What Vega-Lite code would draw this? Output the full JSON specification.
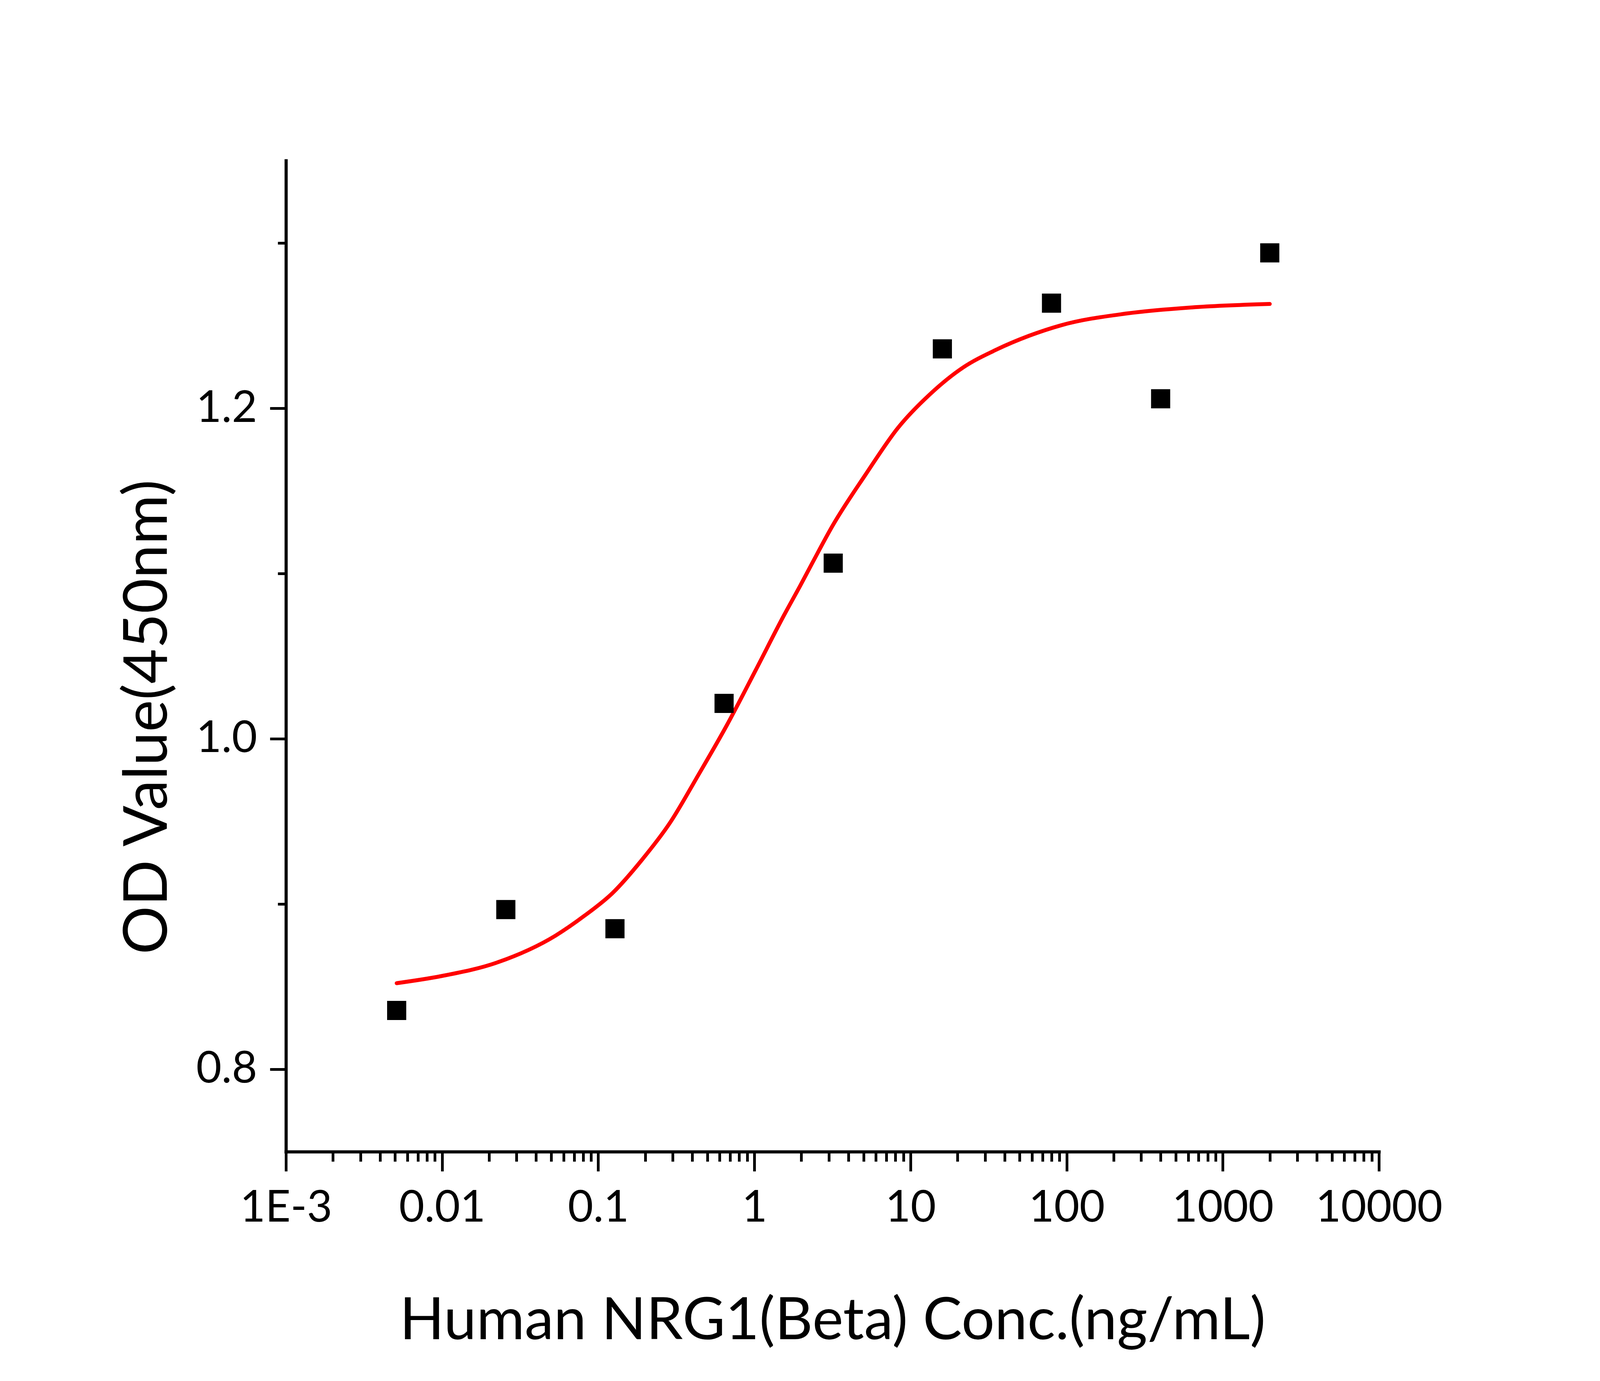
{
  "$schema": "https://vega.github.io/schema/vega-lite/v6.json",
  "autosize": "none",
  "padding": {"left": 732, "top": 411, "right": 570, "bottom": 587},
  "width": 2798,
  "height": 2537,
  "background": "white",
  "config": {"view": {"stroke": null}, "font": "Lato"},
  "datasets": {
    "points": [
      {"conc": 0.00512, "od": 0.8355},
      {"conc": 0.0256, "od": 0.8966},
      {"conc": 0.128, "od": 0.885},
      {"conc": 0.64, "od": 1.0214},
      {"conc": 3.2, "od": 1.1063},
      {"conc": 16, "od": 1.236},
      {"conc": 80, "od": 1.2637},
      {"conc": 400, "od": 1.2058},
      {"conc": 2000, "od": 1.2941}
    ],
    "curve": [
      {"conc": 0.00512, "od": 0.852},
      {"conc": 0.00989, "od": 0.8563},
      {"conc": 0.02296, "od": 0.8648},
      {"conc": 0.0533, "od": 0.8808},
      {"conc": 0.0813, "od": 0.8927},
      {"conc": 0.1236, "od": 0.9066},
      {"conc": 0.1888, "od": 0.9262},
      {"conc": 0.2877, "od": 0.949},
      {"conc": 0.4375, "od": 0.978},
      {"conc": 0.6668, "od": 1.0082},
      {"conc": 1.0186, "od": 1.0414},
      {"conc": 1.552, "od": 1.0749},
      {"conc": 1.963, "od": 1.0925},
      {"conc": 2.36, "od": 1.1067},
      {"conc": 3.177, "od": 1.1291},
      {"conc": 5.14, "od": 1.1597},
      {"conc": 8.318, "od": 1.1882},
      {"conc": 13.46, "od": 1.2089},
      {"conc": 21.78, "od": 1.2248},
      {"conc": 35.24, "od": 1.2354},
      {"conc": 57.02, "od": 1.2438},
      {"conc": 92.26, "od": 1.2503},
      {"conc": 241.5, "od": 1.2574},
      {"conc": 632.4, "od": 1.2611},
      {"conc": 2000, "od": 1.2632}
    ]
  },
  "resolve": {"axis": {"x": "independent", "y": "independent"}},
  "layer": [
    {
      "data": {"name": "curve"},
      "mark": {"type": "line", "color": "#FF0000", "strokeWidth": 10, "strokeCap": "round", "interpolate": "monotone"},
      "encoding": {
        "x": {
          "field": "conc", "type": "quantitative",
          "scale": {"type": "log", "domain": [0.001, 10000], "nice": false},
          "axis": {
            "orient": "bottom",
            "values": [0.002, 0.003, 0.004, 0.005, 0.006, 0.007, 0.008, 0.009,
                       0.02, 0.03, 0.04, 0.05, 0.06, 0.07, 0.08, 0.09,
                       0.2, 0.3, 0.4, 0.5, 0.6, 0.7, 0.8, 0.9,
                       2, 3, 4, 5, 6, 7, 8, 9,
                       20, 30, 40, 50, 60, 70, 80, 90,
                       200, 300, 400, 500, 600, 700, 800, 900,
                       2000, 3000, 4000, 5000, 6000, 7000, 8000, 9000],
            "labels": false, "title": null, "domain": false, "grid": false,
            "tickSize": 25, "tickWidth": 7, "tickColor": "black"
          }
        },
        "y": {
          "field": "od", "type": "quantitative",
          "scale": {"domain": [0.75, 1.35], "nice": false, "zero": false},
          "axis": {
            "orient": "left",
            "values": [0.9, 1.1, 1.3],
            "labels": false, "title": null, "domain": false, "grid": false,
            "tickSize": 21, "tickWidth": 7, "tickColor": "black"
          }
        }
      }
    },
    {
      "data": {"name": "points"},
      "mark": {"type": "point", "shape": "square", "filled": true, "color": "black", "opacity": 1, "size": 2401},
      "encoding": {
        "x": {
          "field": "conc", "type": "quantitative",
          "scale": {"type": "log", "domain": [0.001, 10000], "nice": false},
          "axis": {
            "orient": "bottom",
            "values": [0.001, 0.01, 0.1, 1, 10, 100, 1000, 10000],
            "labelExpr": "datum.value < 0.005 ? '1E-3' : format(datum.value, '~g')",
            "domainWidth": 8, "domainColor": "black", "domainCap": "square",
            "tickSize": 50, "tickWidth": 7, "tickColor": "black",
            "grid": false,
            "labelFont": "Lato", "labelFontSize": 112, "labelColor": "black",
            "labelPadding": 40, "labelFlush": false, "labelOverlap": false, "labelLimit": 0,
            "title": "Human NRG1(Beta) Conc.(ng/mL)",
            "titleFont": "Lato", "titleFontSize": 150, "titleFontWeight": "normal", "titleColor": "black", "titleLimit": 0,
            "titleX": 1399, "titleY": 479, "titleAlign": "center", "titleBaseline": "alphabetic"
          }
        },
        "y": {
          "field": "od", "type": "quantitative",
          "scale": {"domain": [0.75, 1.35], "nice": false, "zero": false},
          "axis": {
            "orient": "left",
            "values": [0.8, 1.0, 1.2],
            "format": ".1f",
            "domainWidth": 8, "domainColor": "black", "domainCap": "square",
            "tickSize": 41, "tickWidth": 7, "tickColor": "black",
            "grid": false,
            "labelFont": "Lato", "labelFontSize": 112, "labelColor": "black",
            "labelPadding": 33, "labelLimit": 0,
            "title": "OD Value(450nm)",
            "titleFont": "Lato", "titleFontSize": 155, "titleFontWeight": "normal", "titleColor": "black", "titleLimit": 0,
            "titleX": -306, "titleY": 1424, "titleAngle": -90, "titleAlign": "center", "titleBaseline": "alphabetic"
          }
        }
      }
    }
  ]
}
